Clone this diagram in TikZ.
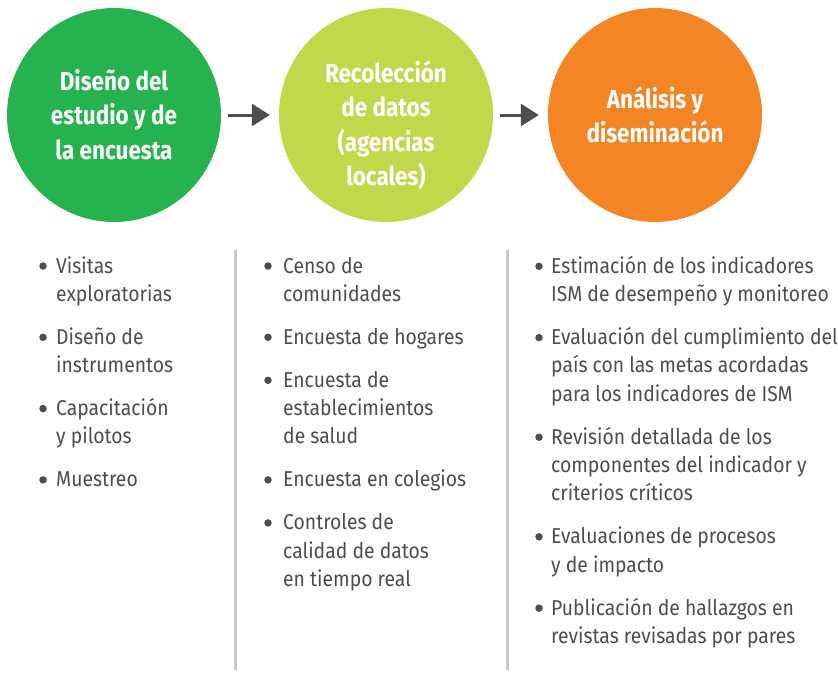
\documentclass[tikz,border=0pt]{standalone}
\usepackage{fontspec}
\setmainfont{Fira Sans}[FakeStretch=0.9]
\newfontfamily\headfont{Fira Sans}[FakeStretch=0.865]
\usetikzlibrary{arrows.meta}
\definecolor{cGreen}{HTML}{26B24E}
\definecolor{cLime}{HTML}{C0D84A}
\definecolor{cOrange}{HTML}{F48524}
\definecolor{cText}{HTML}{4D4D4F}
\definecolor{cArrow}{HTML}{4D4D4F}
\definecolor{cRule}{HTML}{C8C8CA}
\begin{document}
\begin{tikzpicture}[x=1pt,y=-1pt,
  stage/.style={circle, minimum size=214pt, inner sep=0pt},
  stagetext/.style={anchor=base, inner sep=0pt, text=white, font=\headfont\bfseries\fontsize{26}{34.5}\selectfont},
  flow/.style={draw=cArrow, line width=3pt, -{Triangle[length=18pt,width=22pt]}, shorten <=7pt, shorten >=9pt},
  item/.style={anchor=base west, inner sep=0pt, text=cText, font=\fontsize{21.5}{28.3}\selectfont},
  dot/.style={circle, fill=cText, inner sep=0pt, minimum size=7.5pt},
  rule/.style={draw=cRule, line width=2.2pt}]
\useasboundingbox (0,0) rectangle (838,673);

% stages
\node[stage, fill=cGreen] (c1) at (114,115) {};
\node[stage, fill=cLime] (c2) at (386,115) {};
\node[stage, fill=cOrange] (c3) at (655,115) {};
\node[stagetext] (t1) at (114,90) {\parbox[t]{200pt}{\centering Diseño del\\estudio y de\\la encuesta}};
\node[stagetext] (t2) at (386,82) {\parbox[t]{200pt}{\centering Recolección\\de datos\\(agencias\\locales)}};
\node[stagetext] (t3) at (655,108) {\parbox[t]{200pt}{\centering Análisis y\\diseminación}};

\draw[flow] (c1.east) -- (c2.west);
\draw[flow] (c2.east) -- (c3.west);

% separators
\coordinate (r1a) at (235.5,250); \coordinate (r1b) at (235.5,670);
\coordinate (r2a) at (507.5,250); \coordinate (r2b) at (507.5,670);
\draw[rule] (r1a) -- (r1b);
\draw[rule] (r2a) -- (r2b);

% column 1
\node[dot] (d11) at (43,266) {};
\node[item] (i11) at (56,273) {\parbox[t]{170pt}{Visitas\\exploratorias}};
\node[dot] (d12) at (43,337.3) {};
\node[item] (i12) at (56,344.3) {\parbox[t]{170pt}{Diseño de\\instrumentos}};
\node[dot] (d13) at (43,408.6) {};
\node[item] (i13) at (56,415.6) {\parbox[t]{170pt}{Capacitación\\y pilotos}};
\node[dot] (d14) at (43,479.9) {};
\node[item] (i14) at (56,486.9) {\parbox[t]{170pt}{Muestreo}};

% column 2
\node[dot] (d21) at (268,266) {};
\node[item] (i21) at (283,273) {\parbox[t]{220pt}{Censo de\\comunidades}};
\node[dot] (d22) at (268,337.3) {};
\node[item] (i22) at (283,344.3) {\parbox[t]{220pt}{Encuesta de hogares}};
\node[dot] (d23) at (268,380.3) {};
\node[item] (i23) at (283,387.3) {\parbox[t]{220pt}{Encuesta de\\establecimientos\\de salud}};
\node[dot] (d24) at (268,479.9) {};
\node[item] (i24) at (283,486.9) {\parbox[t]{220pt}{Encuesta en colegios}};
\node[dot] (d25) at (268,522.9) {};
\node[item] (i25) at (283,529.9) {\parbox[t]{220pt}{Controles de\\calidad de datos\\en tiempo real}};

% column 3
\node[dot] (d31) at (539,266.3) {};
\node[item] (i31) at (551,273.3) {\parbox[t]{300pt}{Estimación de los indicadores\\ISM de desempeño y monitoreo}};
\node[dot] (d32) at (539,337.6) {};
\node[item] (i32) at (551,344.6) {\parbox[t]{300pt}{Evaluación del cumplimiento del\\país con las metas acordadas\\para los indicadores de ISM}};
\node[dot] (d33) at (539,437.2) {};
\node[item] (i33) at (551,444.2) {\parbox[t]{300pt}{Revisión detallada de los\\componentes del indicador y\\criterios críticos}};
\node[dot] (d34) at (539,536.8) {};
\node[item] (i34) at (551,543.8) {\parbox[t]{300pt}{Evaluaciones de procesos\\y de impacto}};
\node[dot] (d35) at (539,608.1) {};
\node[item] (i35) at (551,615.1) {\parbox[t]{300pt}{Publicación de hallazgos en\\revistas revisadas por pares}};
\end{tikzpicture}
\end{document}
